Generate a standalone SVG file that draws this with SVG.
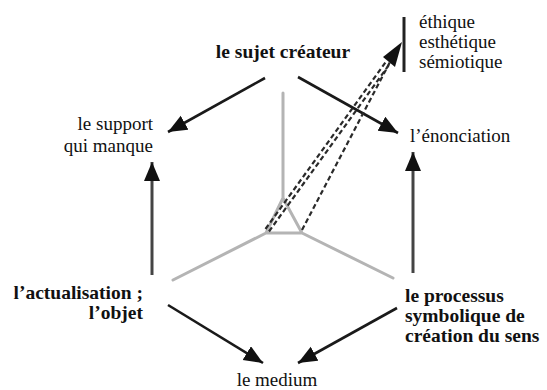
<svg xmlns="http://www.w3.org/2000/svg" width="547" height="390" viewBox="0 0 547 390">
<defs>
<style>
text{font-family:'Liberation Serif','Times New Roman',serif;fill:#111}
.t{font-size:19px}
.b{font-size:19.5px;font-weight:bold}
.g{stroke:#b4b4b4;stroke-width:3;fill:none;stroke-linecap:round;stroke-linejoin:round}
.a{stroke:#1a1a1a;stroke-width:2.6;fill:none;marker-end:url(#ah)}
.v{stroke:#444;stroke-width:3;fill:none;marker-end:url(#ah)}
.d{stroke:#2a2a2a;stroke-width:2.2;fill:none;stroke-dasharray:5 3}
</style>
<marker id="ah" markerUnits="userSpaceOnUse" markerWidth="22" markerHeight="18" refX="19" refY="8" orient="auto">
<path d="M0,0 L19,8 L0,16 Z" fill="#111"/>
</marker>
</defs>
<g id="structure">
<path class="g" d="M283,93 V198 L266,233 H302 L283,198 M266,233 L173,280 M302,233 L393,278"/>
</g>
<g id="connectors">
<line class="a" x1="265" y1="78" x2="168" y2="132"/>
<line class="a" x1="298" y1="77" x2="398" y2="133"/>
<line class="v" x1="152" y1="275" x2="152" y2="162"/>
<line class="v" x1="413" y1="273" x2="413" y2="152"/>
<line class="a" x1="168" y1="305" x2="263" y2="363"/>
<line class="a" x1="397" y1="308" x2="298" y2="363"/>
<line class="d" x1="265.5" y1="229" x2="386.5" y2="61"/>
<line class="d" x1="269" y1="231.5" x2="390" y2="63.5"/>
<line class="d" x1="302" y1="230" x2="390" y2="62"/>
<path d="M383,57 L402,42 L395,67 Z" fill="#111"/>
<line x1="404" y1="17" x2="404" y2="72" stroke="#222" stroke-width="3"/>
</g>
<g id="sujet"><text class="b" x="283" y="58" text-anchor="middle">le sujet créateur</text></g>
<g id="ethique">
<text class="t" x="419" y="28">éthique</text>
<text class="t" x="419" y="48">esthétique</text>
<text class="t" x="419" y="68">sémiotique</text>
</g>
<g id="enonciation"><text class="t" x="410" y="142">l’énonciation</text></g>
<g id="support">
<text class="t" x="153" y="130" text-anchor="end">le support</text>
<text class="t" x="153" y="152" text-anchor="end">qui manque</text>
</g>
<g id="actualisation">
<text class="b" x="143" y="299" text-anchor="end">l’actualisation ;</text>
<text class="b" x="143" y="319" text-anchor="end">l’objet</text>
</g>
<g id="processus">
<text class="b" x="405" y="302">le processus</text>
<text class="b" x="405" y="322">symbolique de</text>
<text class="b" x="405" y="342">création du sens</text>
</g>
<g id="medium"><text class="t" x="277" y="386" text-anchor="middle">le medium</text></g>
</svg>
